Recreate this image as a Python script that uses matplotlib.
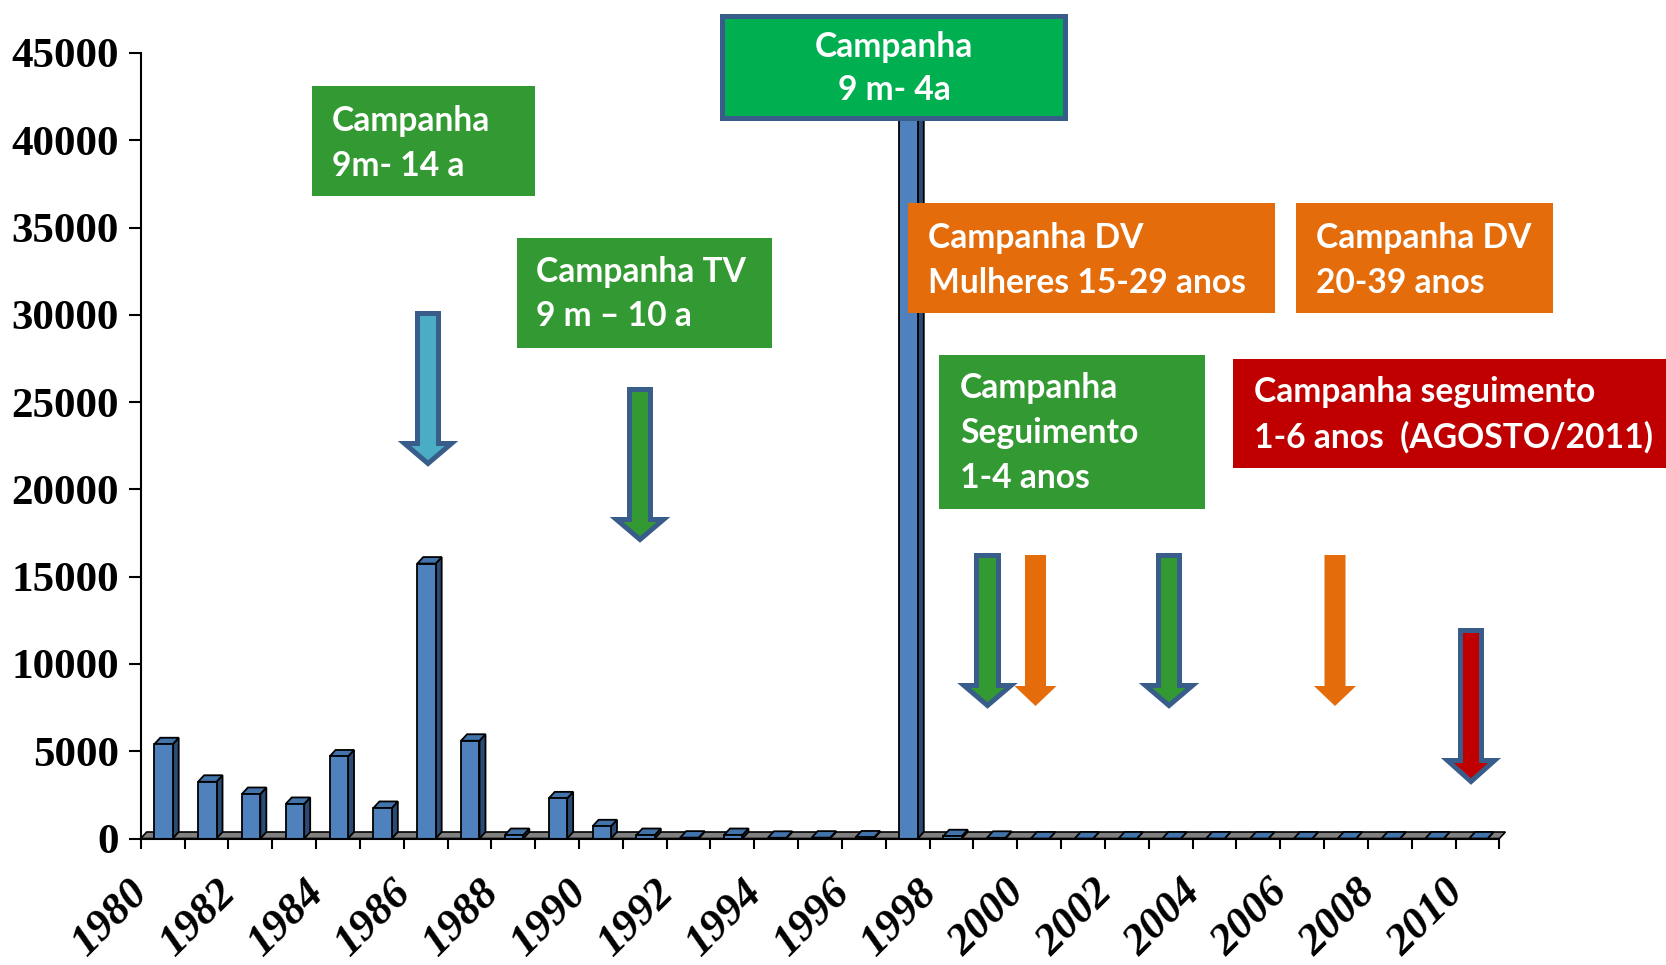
import matplotlib
matplotlib.use('Agg')
import matplotlib.pyplot as plt
from matplotlib.patches import Polygon, Rectangle
from matplotlib.transforms import ScaledTranslation

# data: cases per year
years = list(range(1980, 2011))
cases = [5400, 3250, 2550, 1980, 4700, 1750, 15750, 5600, 200, 2300,
         700, 200, 50, 200, 40, 50, 60, 42000, 130, 40,
         0, 0, 0, 0, 0, 0, 0, 0, 0, 0, 0]
yticks = list(range(0, 45001, 5000))

# campaign boxes: (text lines, fill colour)
boxTexts = [
	(['Campanha', '9m- 14 a'], '#339933'),
	(['Campanha TV', '9 m \u2013 10 a'], '#339933'),
	(['Campanha', '9 m- 4a'], '#00B050'),
	(['Campanha DV', 'Mulheres 15-29 anos'], '#E46C0A'),
	(['Campanha DV', '20-39 anos'], '#E46C0A'),
	(['Campanha', 'Seguimento', '1-4 anos'], '#339933'),
	(['Campanha seguimento', '1-6 anos  (AGOSTO/2011)'], '#C00000'),
]

W, H = 1666, 965
fig = plt.figure(figsize=(W / 100, H / 100), dpi=100)
axL, axR, axT, axB = 140.7, 1499.4, 53.0, 838.5
ax = fig.add_axes([axL / W, 1 - axB / H, (axR - axL) / W, (axB - axT) / H])

ax.set_xlim(-0.5, len(years) - 0.5)
ax.set_ylim(0, 45000)

frontC = '#4F81BD'
sideC = '#2B4B74'
topC = '#4373AB'
edge = 'black'

# 3d depth in data units
dx = 6.0 / ((axR - axL) / len(years))
dy = 6.5 * 45000 / (axB - axT)

floor = Polygon([(-0.5, 0), (-0.5 + dx, dy), (len(years) - 0.5 + dx, dy), (len(years) - 0.5, 0)],
	closed=True, fc='#808080', ec=edge, lw=1.2, zorder=1, clip_on=False)
ax.add_patch(floor)

xs = [i + 0.02 for i in range(len(years))]
bars = ax.bar(xs, cases, width=0.42, color=frontC, edgecolor=edge, linewidth=1.3, zorder=4)
for b in bars:
	x0 = b.get_x()
	w = b.get_width()
	v = b.get_height()
	side = Polygon([(x0 + w, 0), (x0 + w + dx, dy), (x0 + w + dx, v + dy), (x0 + w, v)],
		closed=True, fc=sideC, ec=edge, lw=1.3, zorder=3)
	top = Polygon([(x0, v), (x0 + dx, v + dy), (x0 + w + dx, v + dy), (x0 + w, v)],
		closed=True, fc=topC, ec=edge, lw=1.3, zorder=3)
	ax.add_patch(side)
	ax.add_patch(top)

for s in ['top', 'right']:
	ax.spines[s].set_visible(False)
for s in ['left', 'bottom']:
	ax.spines[s].set_linewidth(1.5)
	ax.spines[s].set_zorder(5)

serif = 'Liberation Serif'
ax.set_yticks(yticks)
ax.set_yticklabels([str(t) for t in yticks], fontsize=31, fontweight='bold', family=serif)
ax.tick_params(axis='y', direction='out', length=8.6, width=1.5, pad=7)

ax.set_xticks([i - 0.5 for i in range(len(years) + 1)])
ax.set_xticklabels([])
ax.tick_params(axis='x', which='major', direction='out', length=7.2, width=1.5)
ax.set_xticks([i for i in range(0, len(years), 2)], minor=True)
ax.set_xticklabels([str(years[i]) for i in range(0, len(years), 2)], minor=True,
	fontsize=32, fontweight='bold', fontstyle='italic', family=serif, rotation=45, ha='right', va='top')
ax.tick_params(axis='x', which='minor', length=0, pad=24)
offset = ScaledTranslation(-6 / 100, 0, fig.dpi_scale_trans)
for lbl in ax.get_xticklabels(minor=True):
	lbl.set_transform(lbl.get_transform() + offset)

# overlay in pixel coordinates for the campaign boxes and arrows
ov = fig.add_axes([0, 0, 1, 1], zorder=10)
ov.set_xlim(0, W)
ov.set_ylim(H, 0)
ov.axis('off')
ov.patch.set_alpha(0)

boxRects = [
	(312, 86, 535, 196), (517, 238, 772, 348), (720, 13, 1068, 120),
	(908, 203, 1275, 313), (1296, 203, 1553, 313), (939, 355, 1205, 509), (1233, 359, 1666, 468)
]
textPos = [
	(332, [131, 176]), (536, [282, 326]), (894, [57, 100]), (928, [248, 293]),
	(1316, [248, 293]), (960, [398, 443, 488]), (1254, [402, 448])
]
outline = '#385D8A'
for i, ((lines, col), (x0, y0, x1, y1), (tx, bl)) in enumerate(zip(boxTexts, boxRects, textPos)):
	if i == 2:
		ov.add_patch(Rectangle((x0 + 2.5, y0 + 2.5), x1 - x0 - 5, y1 - y0 - 5, fc=col, ec=outline, lw=3.6))
		ha = 'center'
	else:
		ov.add_patch(Rectangle((x0, y0), x1 - x0, y1 - y0, fc=col, ec='none'))
		ha = 'left'
	for ln, y in zip(lines, bl):
		ov.text(tx, y, ln, color='white', fontsize=24.2, fontweight='bold', family='Lato', ha=ha, va='baseline')


def blockArrow(cx, shaftW, headW, top, headY, tipY, fc, ec=None):
	ins = 2.5 if ec else 0
	sl, sr = cx - shaftW / 2 + ins, cx + shaftW / 2 - ins
	hl, hr = cx - headW / 2 + ins * 1.4, cx + headW / 2 - ins * 1.4
	pts = [(sl, top + ins), (sr, top + ins), (sr, headY + ins), (hr, headY + ins),
		(cx, tipY - ins * 1.4), (hl, headY + ins), (sl, headY + ins)]
	ov.add_patch(Polygon(pts, closed=True, fc=fc, ec=ec if ec else 'none', lw=3.6, joinstyle='miter'))


blockArrow(428, 26, 54, 311, 441, 467, '#4BACC6', outline)
blockArrow(640, 26, 54, 387, 517, 543, '#339933', outline)
blockArrow(987.5, 27, 54, 553, 683, 709, '#339933', outline)
blockArrow(1035.5, 21, 42, 555, 686, 706, '#E46C0A')
blockArrow(1169, 26, 54, 553, 683, 709, '#339933', outline)
blockArrow(1335, 21, 42, 555, 686, 706, '#E46C0A')
blockArrow(1471, 26, 54, 628, 758, 785, '#C00000', outline)

fig.savefig('out.png', dpi=100)
